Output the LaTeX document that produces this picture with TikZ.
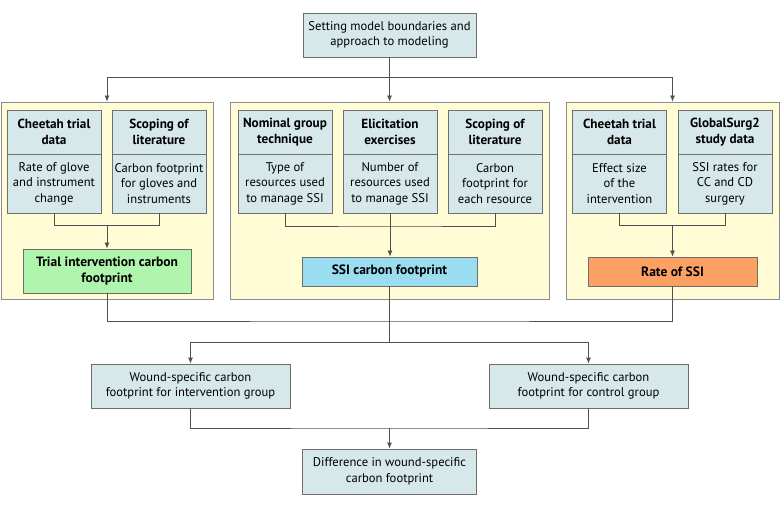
\documentclass[tikz,border=0pt]{standalone}
\usepackage{fontspec}
\setmainfont{PT Sans}
\usetikzlibrary{arrows.meta}
\definecolor{boxfill}{HTML}{D6E8EA}
\definecolor{panelfill}{HTML}{FFFCD6}
\definecolor{greenfill}{HTML}{B0F5AE}
\definecolor{bluefill}{HTML}{9ADCF0}
\definecolor{orangefill}{HTML}{FDA064}
\definecolor{edge}{HTML}{6E6E6E}
\definecolor{wire}{HTML}{505050}
\tikzset{
  panel/.style={draw=edge!80, fill=panelfill, line width=0.8pt, inner sep=0pt},
  box/.style={draw=edge, fill=boxfill, line width=0.8pt, inner sep=0pt, align=center,
    font=\fontsize{12.6}{15.5}\selectfont},
  hdrbox/.style={box, minimum width=94pt, minimum height=44pt,
    font=\bfseries\fontsize{13.2}{16}\selectfont},
  bodybox/.style={box, minimum width=94pt, minimum height=59pt},
  resbox/.style={box, font=\bfseries\fontsize{13.5}{16.5}\selectfont},
  wire/.style={draw=wire, line width=0.8pt},
  arr/.style={wire, -{Latex[length=6pt,width=5pt]}}
}
\begin{document}
\begin{tikzpicture}[x=1pt,y=-1pt]
\useasboundingbox (0,0) rectangle (780,508);
% top
\node[box, minimum width=173pt, minimum height=44pt] (top) at (389.5,35) {Setting model boundaries and\\approach to modeling};
% panels
\node[panel, minimum width=212pt, minimum height=197pt] (p1) at (107,200.5) {};
\node[panel, minimum width=319pt, minimum height=197pt] (p2) at (389.5,200.5) {};
\node[panel, minimum width=213pt, minimum height=197pt] (p3) at (672.5,200.5) {};
% panel 1
\node[hdrbox] (h11) at (54,132) {Cheetah trial\\data};
\node[bodybox] (b11) at (54,183.5) {Rate of glove\\and instrument\\change};
\node[hdrbox] (h12) at (159,132) {Scoping of\\literature};
\node[bodybox] (b12) at (159,183.5) {Carbon footprint\\for gloves and\\instruments};
\node[resbox, fill=greenfill, minimum width=168pt, minimum height=44pt] (green) at (107,271) {Trial intervention carbon\\footprint};
% panel 2
\node[hdrbox] (h21) at (285,132) {Nominal group\\technique};
\node[bodybox] (b21) at (285,183.5) {Type of\\resources used\\to manage SSI};
\node[hdrbox] (h22) at (390,132) {Elicitation\\exercises};
\node[bodybox] (b22) at (390,183.5) {Number of\\resources used\\to manage SSI};
\node[hdrbox] (h23) at (495,132) {Scoping of\\literature};
\node[bodybox] (b23) at (495,183.5) {Carbon\\footprint for\\each resource};
\node[resbox, fill=bluefill, minimum width=175pt, minimum height=29pt] (ssi) at (389.5,271.5) {SSI carbon footprint};
% panel 3
\node[hdrbox] (h31) at (619.5,132) {Cheetah trial\\data};
\node[bodybox] (b31) at (619.5,183.5) {Effect size\\of the\\intervention};
\node[hdrbox] (h32) at (725,132) {GlobalSurg2\\study data};
\node[bodybox] (b32) at (725,183.5) {SSI rates for\\CC and CD\\surgery};
\node[resbox, fill=orangefill, minimum width=169pt, minimum height=29pt] (rate) at (672.5,271.5) {Rate of SSI};
% lower boxes
\node[box, minimum width=199pt, minimum height=44pt] (w1) at (190.5,386) {Wound-specific carbon\\footprint for intervention group};
\node[box, minimum width=199pt, minimum height=44pt] (w2) at (588.5,386) {Wound-specific carbon\\footprint for control group};
\node[box, minimum width=174pt, minimum height=45pt] (diff) at (389.5,471.5) {Difference in wound-specific\\carbon footprint};
% top connectors
\coordinate (t) at (389.5,77.5);
\draw[wire] (top.south) -- (t);
\draw[arr] (t) -| (p1.north);
\draw[arr] (t) -- (p2.north);
\draw[arr] (t) -| (p3.north);
% panel connectors
\coordinate (j1) at (107,225.5);
\draw[wire] (b11.south) |- (j1) -| (b12.south);
\draw[arr] (j1) -- (green.north);
\coordinate (j2) at (390,226);
\draw[wire] (b21.south) |- (j2) -| (b23.south);
\draw[wire] (b22.south) -- (j2);
\draw[arr] (j2) -- (ssi.north -| j2);
\coordinate (j3) at (672.5,225.5);
\draw[wire] (b31.south) |- (j3) -| (b32.south);
\draw[arr] (j3) -- (rate.north);
% lower connectors
\coordinate (m) at (389.5,321);
\coordinate (m2) at (389.5,342);
\draw[wire] (green.south) |- (m) -| (rate.south);
\draw[wire] (ssi.south) -- (m) -- (m2);
\draw[arr] (m2) -| (w1.north);
\draw[arr] (m2) -| (w2.north);
\coordinate (m3) at (389.5,428);
\draw[wire] (w1.south) |- (m3) -| (w2.south);
\draw[arr] (m3) -- (diff.north);
\end{tikzpicture}
\end{document}
